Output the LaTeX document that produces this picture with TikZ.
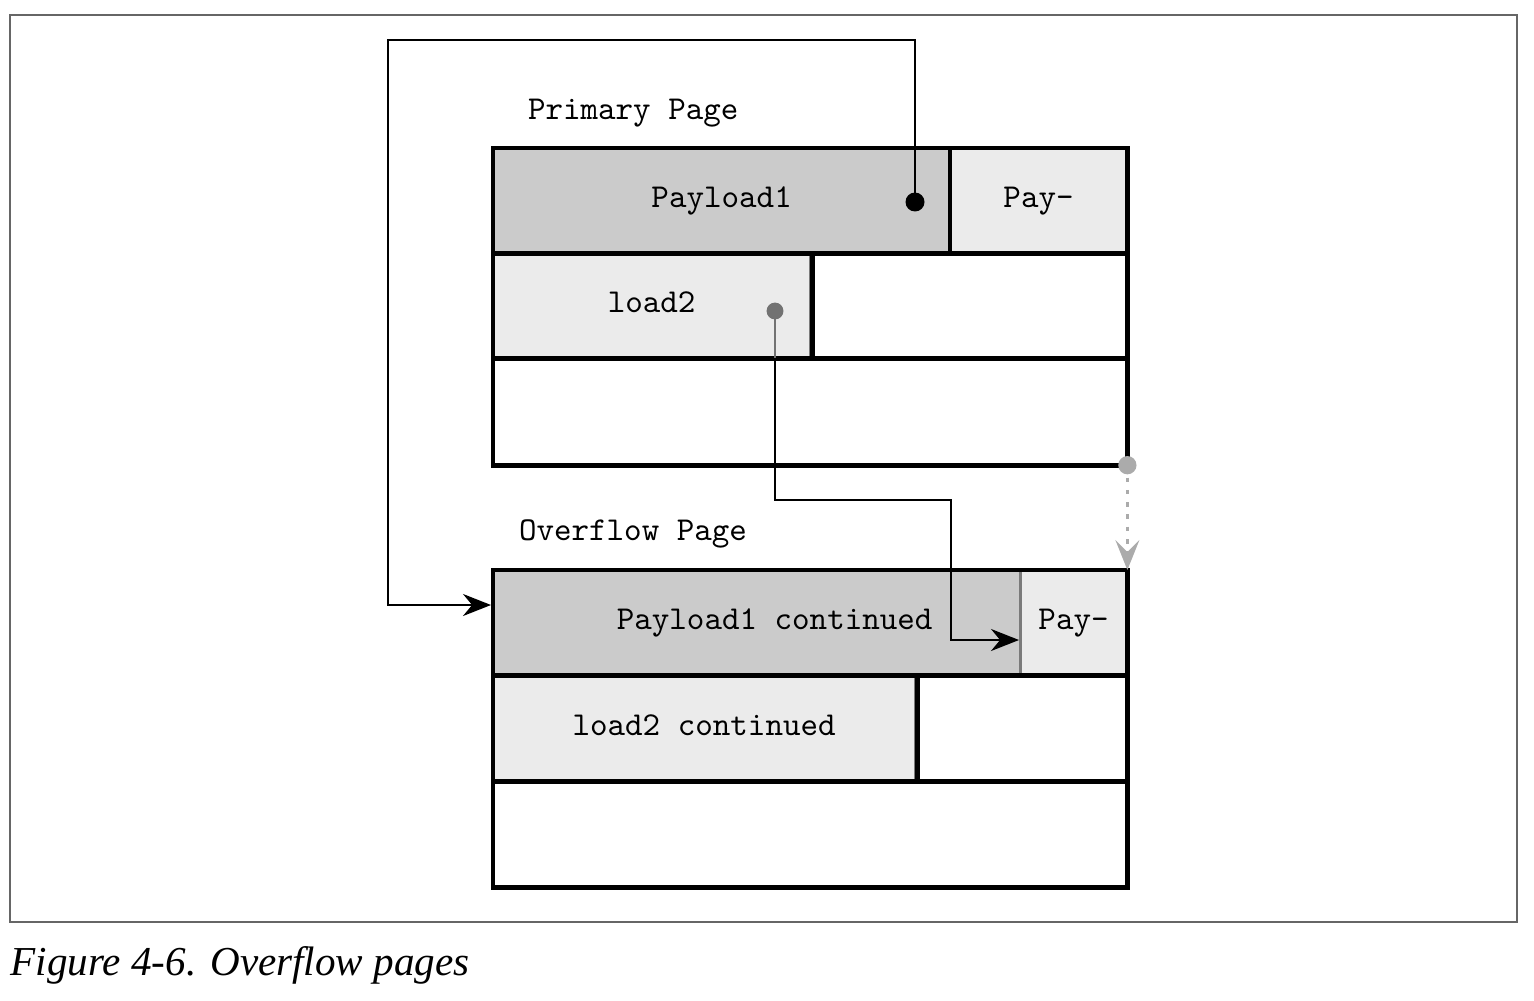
\documentclass[tikz,border=0pt]{standalone}
\usepackage{fontspec}
\newfontfamily\capfont{Liberation Serif}
\usetikzlibrary{arrows.meta}
\definecolor{darkcell}{HTML}{CBCBCB}
\definecolor{lightcell}{HTML}{EBEBEB}
\definecolor{cellline}{HTML}{7A7A7A}
\definecolor{dotgray}{HTML}{727272}
\definecolor{softgray}{HTML}{ABABAB}
\tikzset{
  cell/.style={rectangle, anchor=north west, inner sep=0pt, outer sep=0pt, text height=0.62em, text depth=0.22em, font=\fontsize{9.5}{11}\selectfont\ttfamily},
  pageline/.style={line width=1.4pt},
  link/.style={line width=0.65pt},
}
\begin{document}
\begin{tikzpicture}[x=0.01cm, y=-0.01cm]
      \useasboundingbox (0,0) rectangle (1534,1000);
      \draw[black!60, line width=0.45pt] (10,15) rectangle (1517,922);
      \node[anchor=base west, inner sep=0pt, font=\fontsize{11.7}{14}\selectfont\capfont\itshape] (cap) at (10,975) {Figure 4-6. Overflow pages};
      % primary page
      \node[cell, anchor=base west, text height=, text depth=] (plbl) at (528,119) {Primary Page};
      \node[cell, fill=darkcell, minimum width=4.57cm, minimum height=1.05cm] (pA) at (493,148) {Payload1};
      \node[cell, fill=lightcell, minimum width=1.77cm, minimum height=1.05cm] (pB) at (950,148) {Pay-};
      \node[cell, fill=lightcell, draw=cellline, line width=0.85pt, minimum width=3.17cm, minimum height=1.05cm] (pC) at (493,253) {load2};
      \node[cell, minimum width=3.17cm, minimum height=1.05cm] (pD) at (810,253) {};
      \node[cell, draw, pageline, minimum width=6.34cm, minimum height=3.17cm] (prim) at (493,148) {};
      \begin{scope}[pageline]
        \draw (prim.west |- pA.south) -- (prim.east |- pA.south);
        \draw (prim.west |- pC.south) -- (prim.east |- pC.south);
        \draw (pB.north west) -- (pB.south west);
        \draw ([xshift=0.7pt]pD.north west) -- ([xshift=0.7pt]pD.south west);
      \end{scope}
      % overflow page
      \node[cell, anchor=base west, text height=, text depth=] (olbl) at (519,540) {Overflow Page};
      \node[cell, fill=darkcell, minimum width=5.27cm, minimum height=1.05cm] (oA) at (493,570) {\hspace*{0.36cm}Payload1 continued};
      \node[cell, fill=lightcell, draw=cellline, line width=0.85pt, minimum width=1.07cm, minimum height=1.05cm] (oB) at (1020,570) {Pay-};
      \node[cell, fill=lightcell, draw=cellline, line width=0.85pt, minimum width=4.22cm, minimum height=1.06cm] (oC) at (493,675) {load2 continued};
      \node[cell, minimum width=2.12cm, minimum height=1.06cm] (oD) at (915,675) {};
      \node[cell, draw, pageline, minimum width=6.34cm, minimum height=3.17cm] (over) at (493,570) {};
      \begin{scope}[pageline]
        \draw (over.west |- oA.south) -- (over.east |- oA.south);
        \draw (over.west |- oC.south) -- (over.east |- oC.south);
        \draw ([xshift=0.7pt]oD.north west) -- ([xshift=0.7pt]oD.south west);
      \end{scope}
      % links
      \coordinate (d1) at (915,202);
      \coordinate (t1) at (491,605);
      \coordinate (d2) at (775,311);
      \coordinate (t2) at (1019,640);
      \draw[link, -{Stealth[length=0.28cm, width=0.22cm]}] (d1) |- (388,40) |- (t1);
      \draw[link, dotgray] (d2) -- (d2 |- pC.south);
      \draw[link, -{Stealth[length=0.28cm, width=0.22cm]}] (d2 |- pC.south) |- (951,500) |- (t2);
      \draw[link, softgray, line width=0.75pt, dash pattern=on 1.3pt off 2.2pt, -{Stealth[length=0.3cm, width=0.24cm, inset=0.12cm]}] (prim.south east) -- (over.north east);
      \fill (d1) circle (2.7pt);
      \fill[dotgray] (d2) circle (2.4pt);
      \fill[softgray] (prim.south east) circle (2.6pt);
    \end{tikzpicture}
\end{document}
